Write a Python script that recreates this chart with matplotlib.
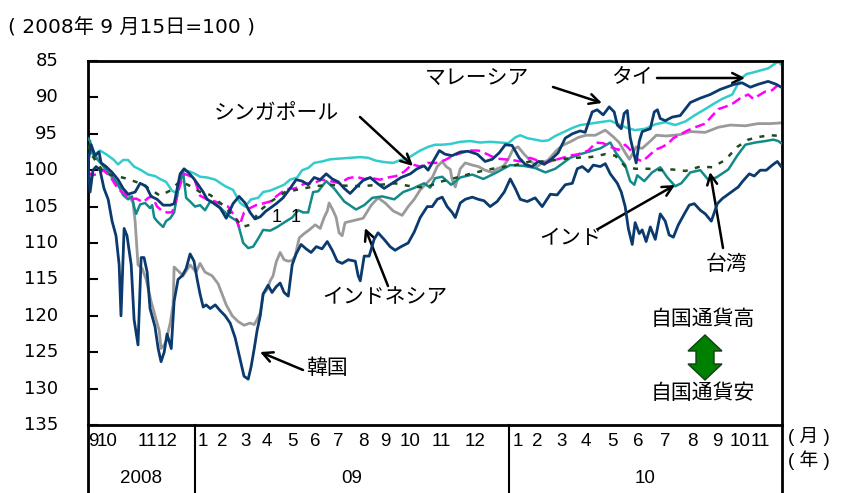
import matplotlib
matplotlib.use('Agg')
import matplotlib.pyplot as plt
from matplotlib.patches import Polygon

plt.rcParams['font.family'] = ['Liberation Sans', 'Noto Sans CJK JP']

# x values are months counted from 2008-09-01 (0 = Sep 1 2008, 4 = Jan 1 2009, 16 = Jan 1 2010)
korea_m = [-0.08, 0.0, 0.11, 0.23, 0.38, 0.53, 0.69, 0.84, 0.99, 1.11, 1.18, 1.30, 1.41, 1.57, 1.68, 1.83,
           1.95, 2.06, 2.18, 2.29, 2.48, 2.60, 2.71, 2.83, 2.94, 3.10, 3.21, 3.36, 3.52, 3.67, 3.82, 3.97,
           4.09, 4.20, 4.32, 4.43, 4.59, 4.78, 4.97, 5.16, 5.35, 5.54, 5.73, 5.88, 6.04, 6.15, 6.27, 6.38,
           6.50, 6.61, 6.80, 6.95, 7.11, 7.26, 7.41, 7.57, 7.72, 7.87, 8.06, 8.25, 8.44, 8.64, 8.86, 9.06,
           9.25, 9.44, 9.63, 9.86, 10.13, 10.24, 10.32, 10.47, 10.66, 10.85, 11.00, 11.23, 11.46, 11.65,
           11.88, 12.15, 12.38, 12.61, 12.88, 13.07, 13.26, 13.45, 13.64, 13.83, 13.95, 14.14, 14.33,
           14.60, 14.83, 15.05, 15.28, 15.55, 15.82, 16.05, 16.24, 16.43, 16.70, 17.00, 17.27, 17.58,
           17.84, 18.15, 18.42, 18.61, 18.80, 19.03, 19.22, 19.49, 19.68, 19.87, 20.14, 20.29, 20.44,
           20.56, 20.71, 20.82, 20.98, 21.09, 21.24, 21.40, 21.59, 21.78, 21.97, 22.12, 22.28, 22.47,
           22.70, 22.89, 23.08, 23.31, 23.50, 23.73, 23.96, 24.15, 24.49, 24.76, 24.91, 25.18, 25.37,
           25.60, 25.83, 26.06, 26.25, 26.40]
korea_v = [99.0, 103.0, 100.0, 99.5, 100.0, 102.5, 104.0, 107.0, 109.0, 113.0, 120.0, 108.0, 109.0, 113.0,
           120.5, 124.0, 112.0, 112.0, 114.0, 119.0, 121.5, 124.5, 126.3, 125.0, 122.5, 124.5, 118.0,
           115.0, 114.5, 113.5, 111.5, 112.5, 115.0, 117.0, 118.8, 118.5, 119.0, 118.5, 119.3, 120.0,
           121.0, 123.0, 126.0, 128.3, 128.7, 127.0, 124.5, 122.0, 120.0, 117.0, 115.8, 116.8, 116.0,
           115.5, 116.8, 117.3, 113.0, 111.5, 110.2, 110.8, 111.3, 110.5, 110.8, 109.8, 111.0, 112.5,
           112.8, 112.3, 112.5, 114.5, 115.2, 111.8, 111.8, 109.5, 108.6, 109.5, 110.5, 111.0, 110.5,
           110.0, 108.5, 106.5, 105.0, 105.0, 104.0, 103.7, 105.0, 105.8, 106.5, 104.5, 104.0, 103.7,
           104.0, 104.2, 105.0, 104.3, 103.0, 101.2, 102.5, 104.0, 104.3, 103.8, 105.0, 103.3, 103.4,
           102.0, 101.8, 99.8, 99.5, 100.2, 99.3, 99.5, 99.1, 100.5, 101.8, 103.0, 105.0, 108.0, 110.2,
           107.2, 108.7, 108.2, 109.8, 107.8, 109.5, 106.0, 107.0, 108.9, 109.2, 107.5, 106.0, 104.8,
           104.6, 105.5, 106.0, 107.0, 104.6, 103.9, 103.0, 102.3, 101.6, 100.5, 100.8, 100.0, 100.0,
           99.3, 98.8, 99.5]

malaysia_m = [-0.11, 0.04, 0.19, 0.34, 0.42, 0.61, 0.84, 1.07, 1.26, 1.45, 1.72, 1.91, 2.14, 2.33, 2.56,
              2.79, 3.06, 3.21, 3.44, 3.59, 3.78, 3.97, 4.13, 4.32, 4.47, 4.70, 4.97, 5.20, 5.46, 5.69,
              5.92, 6.11, 6.30, 6.50, 6.69, 6.88, 7.11, 7.37, 7.64, 7.87, 8.10, 8.33, 8.56, 8.79, 9.02,
              9.25, 9.48, 9.71, 9.93, 10.20, 10.43, 10.70, 10.97, 11.23, 11.54, 11.88, 12.23, 12.49,
              12.76, 12.91, 13.07, 13.34, 13.56, 13.83, 14.14, 14.44, 14.79, 15.09, 15.36, 15.63, 15.86,
              16.12, 16.39, 16.62, 16.89, 17.12, 17.35, 17.65, 17.88, 18.15, 18.42, 18.72, 18.91, 19.18,
              19.37, 19.60, 19.83, 20.02, 20.14, 20.29, 20.40, 20.52, 20.63, 20.79, 20.86, 20.98, 21.09,
              21.24, 21.40, 21.55, 21.67, 21.78, 21.97, 22.24, 22.54, 22.93, 23.31, 23.69, 24.07, 24.61,
              24.91, 25.22, 25.52, 25.90, 26.21, 26.40]
malaysia_v = [99.5, 96.5, 98.0, 97.5, 99.0, 99.5, 100.3, 101.3, 102.5, 103.3, 103.0, 101.8, 102.2, 103.6,
              104.0, 104.8, 104.8, 104.6, 100.5, 99.8, 100.4, 101.2, 102.0, 103.0, 104.0, 104.5, 105.2,
              106.6, 104.6, 103.6, 104.5, 105.8, 106.7, 106.4, 105.7, 105.2, 104.6, 103.8, 102.5, 101.3,
              101.5, 102.0, 101.0, 101.3, 100.5, 101.2, 101.6, 102.5, 103.2, 102.2, 101.4, 101.0, 101.8,
              102.5, 101.8, 101.0, 100.5, 99.8, 99.4, 100.0, 99.0, 97.3, 97.8, 98.0, 97.5, 97.4, 97.8,
              98.8, 98.5, 97.6, 96.5, 96.6, 98.3, 99.2, 99.5, 98.8, 99.2, 98.4, 97.6, 95.6, 95.0, 94.6,
              94.8, 92.0, 91.7, 92.4, 91.3, 92.0, 93.8, 94.3, 92.2, 91.8, 95.5, 98.0, 99.0, 96.0, 94.7,
              94.5, 94.3, 92.0, 91.7, 92.9, 93.2, 92.7, 92.5, 90.7, 90.1, 89.6, 88.9, 88.2, 88.0, 88.6,
              88.2, 87.8, 88.2, 88.6]

thailand_m = [-0.08, 0.19, 0.38, 0.61, 0.88, 1.07, 1.26, 1.45, 1.68, 1.95, 2.22, 2.48, 2.67, 2.90, 3.13,
              3.32, 3.44, 3.59, 3.82, 4.01, 4.20, 4.47, 4.78, 5.16, 5.46, 5.73, 5.92, 6.15, 6.42, 6.61,
              6.88, 7.15, 7.41, 7.64, 7.91, 8.10, 8.33, 8.56, 8.86, 9.17, 9.55, 9.93, 10.32, 10.62,
              10.93, 11.27, 11.58, 11.85, 12.11, 12.61, 12.91, 13.18, 13.45, 13.76, 14.14, 14.52, 14.90,
              15.28, 15.67, 15.97, 16.24, 16.43, 16.70, 17.00, 17.27, 17.50, 17.77, 18.07, 18.42, 18.72,
              19.11, 19.49, 19.87, 20.25, 20.52, 20.82, 21.21, 21.59, 21.97, 22.35, 22.74, 23.12, 23.50,
              23.81, 24.15, 24.53, 24.84, 25.07, 25.30, 25.60, 25.91, 26.14, 26.29, 26.40]
thailand_v = [97.5, 97.8, 97.3, 97.8, 98.5, 99.2, 98.6, 98.6, 99.5, 100.0, 100.6, 100.8, 101.2, 101.6,
              102.8, 103.2, 101.0, 100.0, 100.2, 100.5, 100.9, 101.0, 101.3, 102.2, 102.7, 104.5, 105.0,
              104.0, 103.8, 103.0, 102.8, 102.4, 102.0, 101.3, 101.0, 100.0, 99.7, 99.0, 98.8, 98.5,
              98.4, 98.3, 98.2, 98.3, 98.7, 98.9, 99.0, 98.6, 98.4, 97.3, 96.8, 96.5, 96.5, 96.4, 96.1,
              96.0, 96.2, 96.1, 96.2, 96.3, 95.5, 95.2, 95.6, 95.8, 96.0, 95.9, 95.3, 94.8, 94.2, 93.8,
              93.6, 93.4, 93.2, 93.8, 94.2, 94.5, 94.3, 93.7, 93.4, 93.8, 93.3, 92.4, 91.6, 90.9, 90.2,
              89.6, 87.5, 86.8, 86.6, 86.3, 86.0, 85.4, 85.1, 85.5]

singapore_m = [-0.11, 0.08, 0.31, 0.50, 0.76, 1.07, 1.30, 1.53, 1.76, 2.03, 2.22, 2.37, 2.56, 2.75, 2.94,
               3.13, 3.29, 3.44, 3.59, 3.82, 4.01, 4.20, 4.47, 4.78, 5.04, 5.27, 5.54, 5.69, 5.88, 6.11,
               6.34, 6.57, 6.88, 7.18, 7.49, 7.83, 8.22, 8.52, 8.86, 9.17, 9.55, 9.86, 10.16, 10.47,
               10.78, 11.08, 11.39, 11.69, 12.00, 12.30, 12.61, 12.91, 13.22, 13.56, 13.87, 14.21, 14.52,
               14.83, 15.17, 15.51, 15.82, 16.12, 16.43, 16.81, 17.19, 17.42, 17.65, 17.96, 18.34, 18.65,
               19.03, 19.33, 19.60, 19.95, 20.18, 20.44, 20.63, 20.86, 21.09, 21.32, 21.59, 21.86, 22.09,
               22.28, 22.54, 22.85, 23.19, 23.50, 23.77, 24.00, 24.26, 24.57, 24.84, 25.14, 25.33, 25.60,
               25.79, 26.06, 26.21, 26.40]
singapore_v = [100.2, 100.7, 100.5, 100.0, 100.8, 102.6, 103.2, 104.0, 103.9, 104.4, 103.8, 103.6, 105.0,
               105.6, 105.8, 105.8, 104.0, 102.0, 100.5, 100.8, 101.5, 103.5, 104.0, 104.3, 104.7, 105.0,
               106.4, 107.8, 105.8, 105.2, 104.8, 104.6, 104.3, 103.4, 102.6, 102.5, 101.8, 101.8, 101.3,
               101.5, 101.8, 101.1, 100.9, 101.2, 101.1, 101.3, 101.0, 100.8, 100.2, 99.2, 99.5, 99.0,
               99.0, 98.6, 98.0, 97.6, 97.3, 97.3, 97.8, 98.4, 98.5, 98.6, 98.8, 98.3, 98.8, 99.0, 98.7,
               98.4, 98.0, 97.8, 97.3, 96.2, 96.3, 96.9, 97.2, 96.5, 97.2, 98.4, 98.8, 98.1, 97.2, 96.8,
               96.3, 95.6, 95.1, 94.5, 94.0, 93.6, 92.5, 91.6, 91.3, 90.8, 90.1, 89.6, 90.2, 89.6, 89.2,
               89.0, 88.5, 88.2]

indonesia_m = [-0.11, 0.08, 0.34, 0.61, 1.15, 1.49, 1.64, 1.72, 1.83, 1.99, 2.14, 2.33, 2.52, 2.64, 2.71,
               2.83, 2.90, 3.06, 3.17, 3.21, 3.36, 3.55, 3.82, 4.05, 4.20, 4.39, 4.66, 4.89, 5.20, 5.43,
               5.66, 5.88, 6.11, 6.27, 6.38, 6.50, 6.61, 6.76, 6.88, 6.99, 7.11, 7.26, 7.41, 7.57, 7.72,
               7.83, 7.99, 8.18, 8.37, 8.60, 8.79, 8.94, 9.06, 9.13, 9.29, 9.40, 9.51, 9.63, 9.74, 9.97,
               10.20, 10.43, 10.74, 11.00, 11.27, 11.58, 11.92, 12.15, 12.38, 12.61, 12.88, 13.07, 13.26,
               13.45, 13.60, 13.76, 13.83, 13.95, 14.14, 14.33, 14.60, 14.83, 15.09, 15.36, 15.55, 15.78,
               15.97, 16.16, 16.35, 16.58, 16.85, 17.08, 17.27, 17.50, 17.81, 18.04, 18.34, 18.65, 18.95,
               19.30, 19.68, 19.98, 20.21, 20.44, 20.60, 20.86, 21.09, 21.40, 21.63, 22.01, 22.54, 22.93,
               23.50, 24.00, 24.45, 25.03, 25.52, 25.98, 26.40]
indonesia_v = [96.5, 97.5, 98.6, 100.0, 102.2, 103.5, 104.5, 107.0, 113.0, 113.5, 115.0, 118.0, 120.5,
               122.0, 124.5, 124.0, 123.5, 121.0, 118.5, 113.3, 113.8, 114.5, 113.0, 114.0, 112.8, 114.0,
               114.5, 115.6, 118.5, 120.0, 120.8, 121.3, 121.0, 121.2, 120.5, 119.6, 117.0, 116.4, 115.2,
               114.5, 112.6, 111.3, 112.3, 112.5, 112.4, 111.8, 109.3, 108.7, 108.2, 107.5, 108.0, 106.5,
               105.6, 104.5, 105.6, 106.5, 108.6, 109.0, 107.2, 107.0, 106.8, 106.6, 104.8, 103.8, 104.5,
               105.6, 106.2, 105.0, 104.0, 102.7, 101.7, 101.0, 99.5, 98.8, 99.5, 99.9, 101.3, 102.3,
               99.8, 99.0, 99.3, 99.5, 100.0, 100.3, 99.8, 99.5, 98.5, 97.1, 96.8, 97.8, 98.8, 99.5, 99.0,
               98.6, 97.3, 96.6, 96.1, 95.5, 95.2, 95.2, 94.5, 95.4, 96.2, 97.6, 98.5, 96.8, 97.0, 96.0,
               95.2, 95.3, 95.1, 94.7, 94.8, 94.1, 93.8, 93.9, 93.6, 93.6, 93.5]

india_m = [-0.11, 0.0, 0.11, 0.27, 0.46, 0.69, 0.92, 1.11, 1.26, 1.45, 1.60, 1.68, 1.76, 1.91, 2.10, 2.29,
           2.37, 2.45, 2.56, 2.67, 2.79, 2.90, 3.06, 3.21, 3.36, 3.55, 3.67, 3.82, 4.01, 4.20, 4.39, 4.59,
           4.78, 5.04, 5.35, 5.62, 5.85, 6.04, 6.23, 6.42, 6.61, 6.88, 7.15, 7.45, 7.72, 7.95, 8.14, 8.33,
           8.52, 8.71, 9.02, 9.32, 9.71, 10.16, 10.47, 10.78, 11.16, 11.62, 11.96, 12.34, 12.76, 12.99,
           13.18, 13.45, 13.79, 14.14, 14.60, 15.02, 15.48, 16.05, 16.55, 17.00, 17.39, 17.77, 18.34,
           18.72, 19.11, 19.49, 19.87, 20.10, 20.44, 20.63, 20.79, 20.90, 21.17, 21.47, 21.78, 22.05,
           22.35, 22.58, 22.93, 23.31, 23.61, 23.92, 24.38, 24.72, 25.03, 25.41, 25.79, 26.10, 26.29, 26.40]
india_v = [95.5, 96.0, 97.8, 98.5, 99.2, 100.3, 101.2, 102.3, 103.4, 104.0, 103.6, 105.0, 106.0, 104.7,
           104.5, 105.2, 104.8, 106.5, 107.0, 107.4, 107.8, 107.0, 106.6, 105.8, 102.8, 100.2, 103.8, 104.3,
           105.0, 104.8, 105.5, 104.3, 104.5, 105.4, 106.4, 107.0, 110.0, 110.7, 110.5, 109.4, 108.2,
           108.3, 107.8, 107.1, 106.5, 105.5, 105.8, 105.8, 103.0, 102.9, 101.5, 102.5, 104.3, 105.4,
           104.8, 103.8, 103.6, 104.0, 103.0, 102.5, 101.8, 102.4, 101.1, 100.9, 102.0, 101.0, 100.6,
           101.2, 100.4, 99.3, 99.4, 99.7, 100.3, 99.8, 98.3, 97.8, 97.4, 97.0, 96.2, 97.7, 99.3, 101.5,
           102.0, 100.7, 101.5, 100.3, 99.6, 101.0, 102.2, 101.8, 100.3, 100.0, 101.3, 101.0, 99.9, 98.0,
           96.5, 96.2, 96.0, 95.8, 96.0, 96.3]

taiwan_m = [-0.11, 0.08, 0.27, 0.50, 0.76, 1.34, 1.91, 2.29, 2.67, 3.06, 3.44, 3.90, 4.20, 4.59, 5.04,
            5.54, 5.81, 6.11, 6.50, 6.95, 7.45, 8.02, 8.60, 9.17, 9.55, 10.32, 11.08, 11.65, 12.23, 12.80,
            13.37, 14.02, 14.52, 15.09, 15.67, 16.24, 16.81, 17.39, 17.96, 18.53, 19.11, 19.68, 20.06,
            20.44, 20.82, 21.32, 21.78, 22.24, 22.74, 23.31, 23.77, 24.26, 24.72, 25.14, 25.60, 25.98, 26.40]
taiwan_v = [96.5, 98.0, 99.0, 100.2, 100.6, 101.1, 101.8, 102.6, 103.5, 102.8, 101.5, 102.3, 103.0, 103.4,
            104.7, 106.5, 107.8, 107.5, 105.5, 104.2, 103.0, 102.6, 102.2, 102.0, 102.1, 102.2, 102.0,
            101.8, 102.2, 102.4, 101.6, 101.0, 100.5, 100.0, 99.6, 99.3, 98.8, 98.8, 98.5, 98.3, 98.2,
            97.8, 98.0, 99.5, 99.8, 99.8, 100.0, 99.9, 100.1, 99.5, 99.6, 98.6, 96.8, 95.8, 95.4, 95.2, 95.3]

# axis labels
y_ticks = [85, 90, 95, 100, 105, 110, 115, 120, 125, 130, 135]
month_labels = ['9', '10', '11', '12', '1', '2', '3', '4', '5', '6', '7', '8', '9', '10', '11', '12',
                '1', '2', '3', '4', '5', '6', '7', '8', '9', '10', '11']
month_pos = [0.12, 0.66, 2.18, 2.94, 4.32, 5.04, 5.92, 6.76, 7.72, 8.60, 9.48, 10.43, 11.27, 12.23,
             13.40, 14.70, 16.32, 17.08, 18.00, 18.95, 19.95, 20.94, 21.97, 23.00, 23.96, 24.82, 25.60]
year_labels = ['2008', '09', '10']
year_bounds = [-0.08, 4.0, 16.0, 26.43]

W, H = 846, 493
fig = plt.figure(figsize=(W / 100, H / 100), dpi=100)
ax = fig.add_axes([88 / W, 1 - 425 / H, (782 - 88) / W, (425 - 61) / H])

navy = '#0a3a6e'
ax.plot(indonesia_m, indonesia_v, color='#9a9a9a', lw=2.0, zorder=2)
ax.plot(thailand_m, thailand_v, color='#33cccc', lw=1.8, zorder=2)
ax.plot(india_m, india_v, color='#138a8a', lw=1.8, zorder=3)
ax.plot(singapore_m, singapore_v, color='#ff00ff', lw=1.8, ls=(0, (4, 2)), zorder=3)
ax.plot(taiwan_m, taiwan_v, color='#1e4a1e', lw=1.8, ls=(0, (2, 3)), zorder=4)
ax.plot(malaysia_m, malaysia_v, color=navy, lw=2.0, zorder=5)
ax.plot(korea_m, korea_v, color=navy, lw=2.0, zorder=5)

ax.set_xlim(year_bounds[0], year_bounds[-1])
ax.set_ylim(135, 85)
ax.set_yticks(y_ticks)
ax.set_yticklabels([])
ax.tick_params(axis='y', direction='in', length=7, width=1.5)
ax.set_xticks([])
for s in ax.spines.values():
    s.set_linewidth(2)
    s.set_color('black')

# y labels drawn as text so they sit well left of the axis, as in the reference
ytrans = ax.get_yaxis_transform()
for v in y_ticks:
    ax.text(-0.043, v, str(v), transform=ytrans, ha='right', va='center', fontsize=13,
            family='DejaVu Sans')

# table-like x axis below the plot
trans = ax.get_xaxis_transform()
for xb in year_bounds:
    ax.plot([xb, xb], [0, -0.19], color='black', lw=2 if xb in (year_bounds[0], year_bounds[-1]) else 1.5,
            transform=trans, clip_on=False)
for lab, p in zip(month_labels, month_pos):
    ax.text(p, -0.045, lab, transform=trans, ha='center', va='center', fontsize=13.5)
for i, lab in enumerate(year_labels):
    ax.text((year_bounds[i] + year_bounds[i + 1]) / 2, -0.147, lab, transform=trans,
            ha='center', va='center', fontsize=13.5)

def fp(x, y):
    return (x, H - y)

fig.text(8 / W, 1 - 28 / H, '( 2008年 9 月15日=100 )', ha='left', va='center', fontsize=14.5,
         family=['DejaVu Sans', 'Noto Sans CJK JP'])
fig.text(788 / W, 1 - 436 / H, '( 月 )', ha='left', va='center', fontsize=13.5)
fig.text(788 / W, 1 - 460 / H, '( 年 )', ha='left', va='center', fontsize=13.5)

arrow = dict(arrowstyle='->', color='black', lw=1.8, mutation_scale=18, shrinkA=0, shrinkB=0)
notes = [('マレーシア', (477, 78), (553, 87), (602, 103)),
         ('タイ', (632, 78), (657, 78), (745, 78)),
         ('シンガポール', (276, 113), (360, 117), (413, 166)),
         ('インド', (571, 238), (598, 229), (675, 185)),
         ('台湾', (727, 264), (723, 248), (710, 172)),
         ('インドネシア', (385, 297), (388, 286), (365, 228)),
         ('韓国', (327, 368), (303, 370), (260, 352))]
for label, tpos, tail, head in notes:
    fig.text(tpos[0] / W, 1 - tpos[1] / H, label, ha='center', va='center', fontsize=15)
    ax.annotate('', xy=fp(*head), xycoords='figure pixels', xytext=fp(*tail),
                textcoords='figure pixels', arrowprops=arrow)

fig.text(277 / W, 1 - 217 / H, '1', ha='center', va='center', fontsize=13)
fig.text(296 / W, 1 - 217 / H, '1', ha='center', va='center', fontsize=13)

fig.text(703 / W, 1 - 319 / H, '自国通貨高', ha='center', va='center', fontsize=15)
fig.text(703 / W, 1 - 393 / H, '自国通貨安', ha='center', va='center', fontsize=15)
cx = 705
pts = [(cx, 335), (cx + 17, 351), (cx + 9, 351), (cx + 9, 364), (cx + 17, 364), (cx, 380),
       (cx - 17, 364), (cx - 9, 364), (cx - 9, 351), (cx - 17, 351)]
fig.patches.append(Polygon([(x / W, 1 - y / H) for x, y in pts], closed=True,
                           transform=fig.transFigure, facecolor='#008000', edgecolor='#143d14', lw=1))

fig.savefig('out.png', dpi=100)
